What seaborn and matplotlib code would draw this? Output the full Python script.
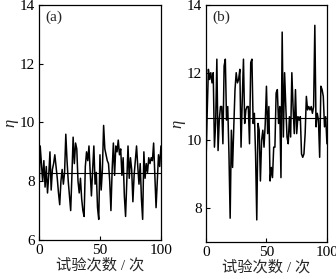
import numpy as np
import pandas as pd
import matplotlib
matplotlib.use("Agg")
import matplotlib.pyplot as plt
import seaborn as sns

# Panel (a) data
eta_a = [7.6, 9.2, 8.6, 8.0, 8.7, 7.8, 8.5, 7.6, 8.2, 9.0,
         7.7, 8.4, 8.6, 8.9, 8.5, 8.1, 7.6, 7.2, 8.0, 8.4,
         7.9, 8.3, 9.6, 8.7, 8.0, 7.5, 7.0, 8.2, 9.5, 8.6,
         9.3, 9.1, 8.0, 7.6, 8.1, 7.4, 7.0, 6.8, 8.5, 9.0,
         8.7, 9.2, 8.3, 7.5, 8.4, 9.2, 7.9, 8.3, 7.1, 6.7,
         8.9, 7.7, 8.4, 9.9, 9.1, 8.9, 8.7, 8.6, 8.0, 7.0,
         8.4, 9.3, 8.2, 9.2, 9.0, 9.4, 8.9, 9.1, 8.2, 8.8,
         7.5, 6.8, 8.0, 9.2, 8.1, 8.8, 8.4, 7.3, 8.2, 8.7,
         9.2, 8.5, 7.9, 8.6, 7.4, 6.7, 9.0, 8.1, 8.6, 8.3,
         8.8, 8.6, 8.8, 8.7, 9.3, 8.2, 7.1, 8.0, 8.9, 8.5,
         9.2]
mean_a = 8.27

# Panel (b) data
eta_b = [9.3, 10.8, 12.1, 11.8, 12.0, 11.7, 12.0, 9.8, 10.5, 12.4,
         9.7, 10.6, 11.0, 11.0, 9.9, 12.2, 12.4, 10.6, 11.0, 9.6,
         7.7, 10.3, 9.2, 10.4, 11.5, 12.0, 11.7, 11.8, 12.1, 9.8,
         11.2, 12.4, 10.5, 10.9, 11.0, 11.0, 9.9, 12.3, 12.4, 10.5,
         10.8, 9.6, 7.65, 10.5, 10.3, 8.8, 10.0, 10.3, 9.8, 10.5,
         11.6, 10.2, 11.0, 8.8, 9.2, 8.9, 9.8, 9.8, 11.4, 11.5,
         10.5, 11.0, 8.9, 13.2, 10.1, 12.0, 11.0, 10.1, 9.9, 10.7,
         10.1, 12.0, 11.0, 10.2, 11.5, 10.2, 10.7, 10.6, 10.7, 9.6,
         9.5, 9.6, 10.2, 11.3, 10.9, 11.0, 10.9, 11.0, 10.8, 11.0,
         13.4, 10.4, 10.8, 10.6, 9.5, 11.6, 11.5, 11.3, 10.4, 10.7,
         9.9]
mean_b = 10.65

panel_labels = ["(a)", "(b)"]
xlabel = "试验次数 / 次"
ylabel = "η"
yticks_a = [6, 8, 10, 12, 14]
yticks_b = [8, 10, 12, 14]
xticks = [0, 50, 100]

sns.set_style("ticks")
plt.rcParams['font.family'] = ['Liberation Serif', 'Noto Sans CJK SC', 'DejaVu Sans']

fig = plt.figure(figsize=(3.36, 2.79), dpi=100)
ax_a = fig.add_axes([0.116, 0.140, 0.363, 0.842])
ax_b = fig.add_axes([0.613, 0.133, 0.360, 0.849])

specs = [
    (ax_a, eta_a, mean_a, (6, 14), yticks_a, panel_labels[0]),
    (ax_b, eta_b, mean_b, (7, 14), yticks_b, panel_labels[1]),
]

for ax, vals, m, ylim, yt, lab in specs:
    df = pd.DataFrame({"n": np.arange(len(vals)), "eta": vals})
    sns.lineplot(data=df, x="n", y="eta", ax=ax, color="black", linewidth=1.1)
    ax.axhline(m, color="black", linewidth=0.8)
    ax.set_xlim(0, 100)
    ax.set_ylim(*ylim)
    ax.set_xticks(xticks)
    ax.set_yticks(yt)
    ax.tick_params(direction="in", length=3, width=0.8, labelsize=11, pad=3, colors="black")
    for s in ax.spines.values():
        s.set_color("black")
        s.set_linewidth(0.9)
    ax.set_xlabel(xlabel, fontsize=11, labelpad=1)
    ax.set_ylabel(ylabel, fontsize=12, style="italic", labelpad=1)
    ax.text(0.05, 0.975, lab, transform=ax.transAxes, ha="left", va="top", fontsize=11)

fig.savefig("out.png", dpi=100)
